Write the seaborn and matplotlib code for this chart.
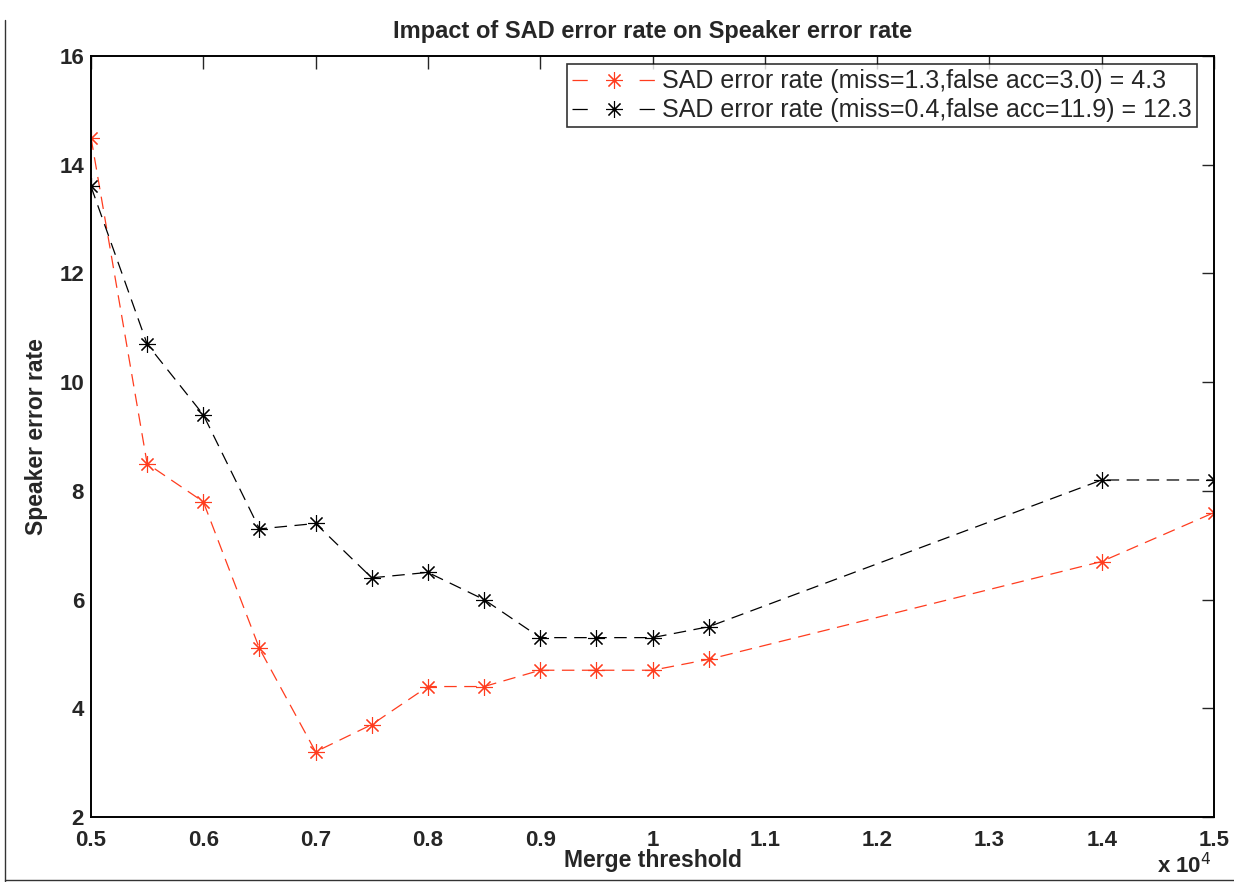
import matplotlib
matplotlib.use("Agg")
import matplotlib.pyplot as plt
import seaborn as sns
import pandas as pd
from matplotlib.ticker import FuncFormatter, FixedLocator
from matplotlib.lines import Line2D

merge_threshold = [5000, 5500, 6000, 6500, 7000, 7500, 8000, 8500, 9000, 9500, 10000, 10500, 14000, 15000]
red_err = [14.5, 8.5, 7.8, 5.1, 3.2, 3.7, 4.4, 4.4, 4.7, 4.7, 4.7, 4.9, 6.7, 7.6]
black_err = [13.6, 10.7, 9.4, 7.3, 7.4, 6.4, 6.5, 6.0, 5.3, 5.3, 5.3, 5.5, 8.2, 8.2]
label_red = "SAD error rate (miss=1.3,false acc=3.0) = 4.3"
label_black = "SAD error rate (miss=0.4,false acc=11.9) = 12.3"
x_ticks = [5000, 6000, 7000, 8000, 9000, 10000, 11000, 12000, 13000, 14000, 15000]
y_ticks = [2, 4, 6, 8, 10, 12, 14, 16]

sns.set_style("white")
plt.rcParams['font.family'] = ['Liberation Sans', 'DejaVu Sans']

fig = plt.figure(figsize=(12.34, 8.82), dpi=100)
ax = fig.add_axes([91/1234, 1-817/882, (1214-91)/1234, (817-56)/882])

df_r = pd.DataFrame({"x": merge_threshold, "y": red_err})
df_b = pd.DataFrame({"x": merge_threshold, "y": black_err})
ast = (8, 2, 0)
sns.lineplot(data=df_r, x="x", y="y", ax=ax, color="#ff3c1e", linestyle=(0, (10, 6)),
             linewidth=0.9, marker=ast, markersize=12, markeredgewidth=0.8,
             markeredgecolor="#ff3c1e", label=label_red)
sns.lineplot(data=df_b, x="x", y="y", ax=ax, color="black", linestyle=(0, (10, 6)),
             linewidth=0.9, marker=ast, markersize=12, markeredgewidth=0.8,
             markeredgecolor="black", label=label_black)

ax.set_xlim(5000, 15000)
ax.set_ylim(2, 16)
ax.xaxis.set_major_locator(FixedLocator(x_ticks))
ax.yaxis.set_major_locator(FixedLocator(y_ticks))
ax.xaxis.set_major_formatter(FuncFormatter(lambda v, p: f"{v/1e4:g}"))
ax.yaxis.set_major_formatter(FuncFormatter(lambda v, p: f"{v:g}"))
ax.tick_params(direction="in", length=9, width=1.0, top=True, right=True,
               labelsize=16)
ax.tick_params(axis="x", pad=9)
ax.tick_params(axis="y", pad=5)
for lab in ax.get_xticklabels() + ax.get_yticklabels():
    lab.set_fontweight("bold")
for s in ax.spines.values():
    s.set_linewidth(1.4)
    s.set_color("black")

ax.set_xlabel("Merge threshold", fontsize=16.5, fontweight="bold", va="center")
ax.xaxis.set_label_coords(0.5, (817-860)/761)
ax.set_ylabel("Speaker error rate", fontsize=16.5, fontweight="bold", labelpad=8)
ax.set_title("Impact of SAD error rate on Speaker error rate", fontsize=17,
             fontweight="bold", pad=13)
fig.text(1157/1234, 1-866/882, r"x 10$^{4}$", fontsize=16, fontweight="bold",
         ha="left", va="center")

leg = ax.legend(loc="upper right", bbox_to_anchor=(0.985, 0.989), fontsize=18,
                frameon=True, fancybox=False, handlelength=3.3, borderpad=0.2,
                labelspacing=0.2, handletextpad=0.3, borderaxespad=0)
leg.get_frame().set_edgecolor("black")
leg.get_frame().set_linewidth(1.2)
for ln in leg.get_lines():
    ln.set_linestyle((0, (12.2, 41.5)))

fig.add_artist(Line2D([5/1234, 5/1234], [0, 1-20/882], transform=fig.transFigure, color="#333333", lw=1.0))
fig.add_artist(Line2D([5/1234, 1], [2/882, 2/882], transform=fig.transFigure, color="#333333", lw=1.0))

fig.savefig("out.png", dpi=100)
